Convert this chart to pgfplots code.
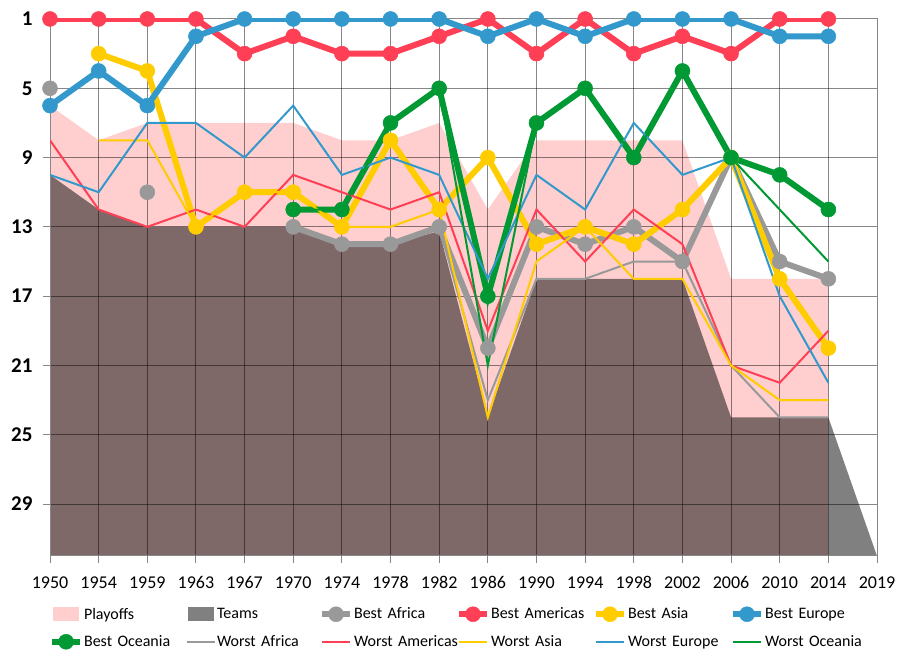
\documentclass[border=0pt]{standalone}
\usepackage{fontspec}
\setmainfont{Carlito}
\usepackage{pgfplots}
\usepackage{pgfplotstable}
\pgfplotsset{compat=1.18}
\definecolor{cRed}{HTML}{FF3F55}
\definecolor{cBlue}{HTML}{3399CC}
\definecolor{cYel}{HTML}{FFCC00}
\definecolor{cGreen}{HTML}{009933}
\definecolor{cGray}{HTML}{999999}
\definecolor{cPink}{HTML}{FFCFCF}
\definecolor{cTeams}{HTML}{808080}
\definecolor{cBrown}{HTML}{7F6868}
\definecolor{cGrid}{HTML}{878787}

\pgfplotstableread{
x bafr bame basia beur boce wafr wame wasia weur woce
0 5 1 nan 6 nan 5 8 nan 10 nan
1 nan 1 3 4 nan nan 12 8 11 nan
2 11 1 4 6 nan 11 13 8 7 nan
3 nan 1 13 2 nan nan 12 13 7 nan
4 nan 3 11 1 nan nan 13 11 9 nan
5 13 2 11 1 12 13 10 11 6 12
6 14 3 13 1 12 14 11 13 10 12
7 14 3 8 1 7 14 12 13 9 7
8 13 2 12 1 5 13 11 12 10 5
9 20 1 9 2 17 23 19 24 16 21
10 13 3 14 1 7 16 12 15 10 7
11 14 1 13 2 5 16 15 13 12 5
12 13 3 14 1 9 15 12 16 7 9
13 15 2 12 1 4 15 14 16 10 4
14 9 3 9 1 9 21 21 21 9 9
15 15 1 16 2 10 24 22 23 17 12
16 16 1 20 2 12 24 19 23 22 15
}\data

\pgfplotsset{
  bestline/.style={line width=6pt, mark=*, mark size=7.5pt, color=#1,
    mark options={solid, fill=#1, draw=#1, line width=0.5pt},
    unbounded coords=jump,
    legend image code/.code={\draw[mark repeat=2,mark phase=2,##1] plot coordinates {(0pt,0pt) (14pt,0pt) (28pt,0pt)};}},
  worstline/.style={line width=2pt, color=#1, no marks, unbounded coords=jump,
    legend image code/.code={\draw[##1] (0pt,0pt) -- (28pt,0pt);}},
  arealeg/.style={legend image code/.code={\fill[##1] (1pt,-7pt) rectangle (27pt,7pt);}},
}

\begin{document}
\begin{tikzpicture}
\path (0,0) rectangle (910pt,661pt);
\begin{axis}[
  set layers,
  at={(50pt,105pt)}, anchor=south west,
  scale only axis, width=827pt, height=537pt,
  xmin=0, xmax=17, ymin=1, ymax=32, y dir=reverse,
  xtick={0,...,17},
  xticklabels={1950,1954,1959,1963,1967,1970,1974,1978,1982,1986,1990,1994,1998,2002,2006,2010,2014,2019},
  ytick={1,5,9,13,17,21,25,29},
  grid=major, major grid style={black, draw opacity=0.47, line width=1pt},
  axis line style={cGrid, line width=1pt},
  tick style={cGrid, line width=1pt},
  tick align=outside, major tick length=7pt,
  xtick pos=left, ytick pos=left,
  /pgf/number format/assume math mode=true,
  xticklabel style={font=\fontsize{18}{20}\selectfont, yshift=-10pt},
  yticklabel style={font=\fontsize{21}{23}\selectfont\bfseries, xshift=-7pt},
  legend columns=6,
  legend cell align=left,
  legend style={at={(-0.005,-0.087)}, anchor=north west, draw=none, fill=none,
    font=\fontsize{16}{18}\selectfont,
    nodes={text width=101pt, inner xsep=1pt, inner ysep=3pt},
    /tikz/every even column/.append style={column sep=0pt},
    /tikz/every odd column/.append style={column sep=0pt},
    row sep=9pt},
]
\addplot[arealeg, on layer=axis background, draw=none, fill=cPink] coordinates {
 (0,32) (0,6) (1,8) (2,7) (3,7) (4,7) (5,7) (6,8) (7,8) (8,7) (9,12) (10,8) (11,8) (12,8) (13,8) (14,16) (15,16) (16,16) (16,32)} -- cycle;
\addlegendentry{Playoffs}
\addplot[arealeg, on layer=axis background, draw=none, fill=cTeams] coordinates {
 (16,32) (16,24) (17,32)} -- cycle;
\addlegendentry{Teams}
\addplot[forget plot, on layer=axis background, draw=none, fill=cBrown] coordinates {
 (0,32) (0,10) (1,12) (2,13) (3,13) (4,13) (5,13) (6,14) (7,14) (8,13.25) (9,24) (10,16) (11,16) (12,16) (13,16) (14,24) (15,24) (16,24) (16,32)} -- cycle;
\addplot[bestline=cGray] table[x=x,y=bafr]{\data}; \addlegendentry{Best Africa}
\addplot[bestline=cRed] table[x=x,y=bame]{\data}; \addlegendentry{Best Americas}
\addplot[bestline=cYel] table[x=x,y=basia]{\data}; \addlegendentry{Best Asia}
\addplot[bestline=cBlue] table[x=x,y=beur]{\data}; \addlegendentry{Best Europe}
\addplot[bestline=cGreen] table[x=x,y=boce]{\data}; \addlegendentry{Best Oceania}
\addplot[worstline=cGray] table[x=x,y=wafr]{\data}; \addlegendentry{\mbox{Worst Africa}}
\addplot[worstline=cRed] table[x=x,y=wame]{\data}; \addlegendentry{\mbox{Worst Americas}}
\addplot[worstline=cYel] table[x=x,y=wasia]{\data}; \addlegendentry{\mbox{Worst Asia}}
\addplot[worstline=cBlue] table[x=x,y=weur]{\data}; \addlegendentry{\mbox{Worst Europe}}
\addplot[worstline=cGreen] table[x=x,y=woce]{\data}; \addlegendentry{\mbox{Worst Oceania}}
\end{axis}
\end{tikzpicture}
\end{document}
